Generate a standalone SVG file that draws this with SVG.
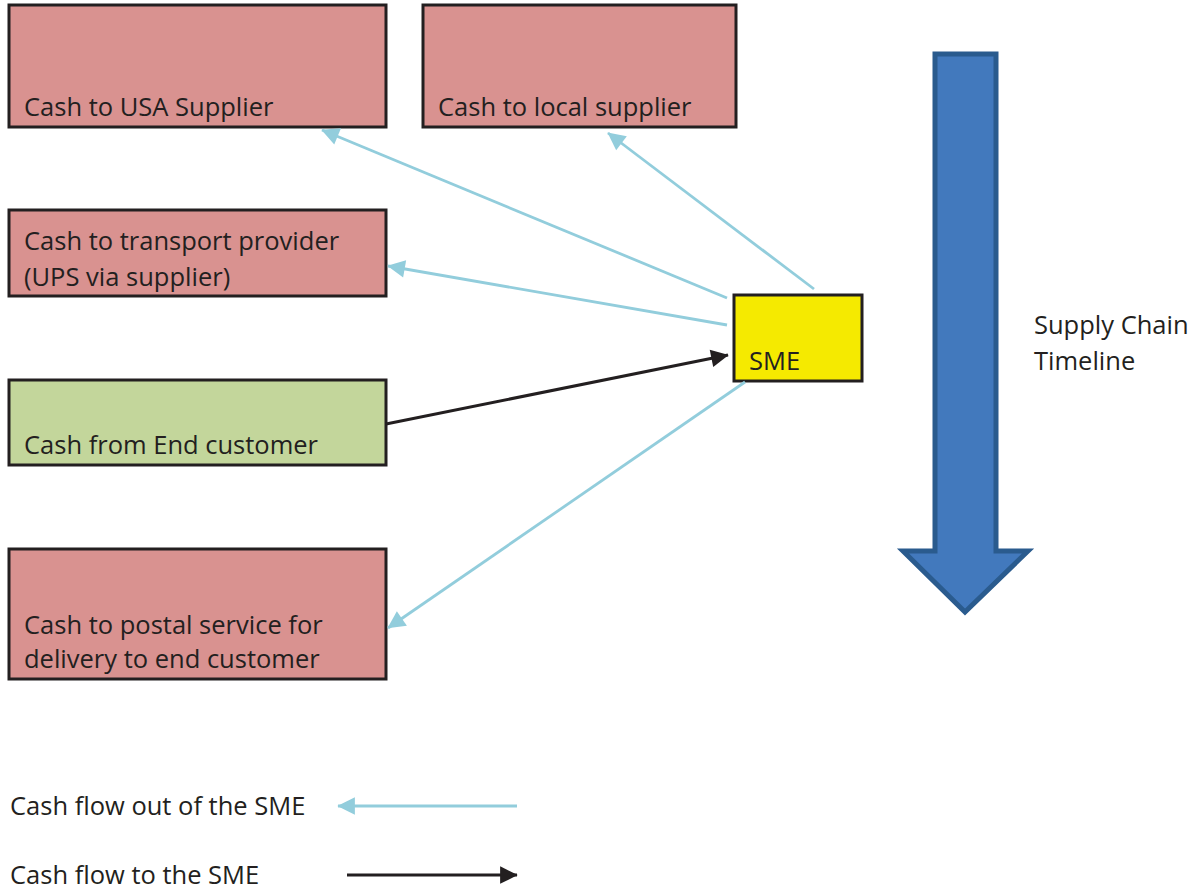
<svg xmlns="http://www.w3.org/2000/svg" width="1200" height="892" viewBox="0 0 1200 892">
<defs>
<style>
.box{stroke:#231f20;stroke-width:3}
.red{fill:#d99290}
.green{fill:#c3d69b}
.sme{fill:#f5ea00}
.t{font-family:"Open Sans","Liberation Sans",sans-serif;font-size:25.5px;fill:#231f20}
.out{stroke:#92cddc;stroke-width:2.8;fill:none}
.in{stroke:#231f20;stroke-width:3;fill:none}
</style>
<marker id="ab" viewBox="0 0 10 10" refX="9" refY="5" markerWidth="8" markerHeight="8" markerUnits="userSpaceOnUse" orient="auto" style="overflow:visible">
<path d="M0,0 L10,5 L0,10 Z" fill="#92cddc" transform="scale(2.2) translate(-5.5,-2.7)"/>
</marker>
<marker id="ak" viewBox="0 0 10 10" refX="9" refY="5" markerWidth="8" markerHeight="8" markerUnits="userSpaceOnUse" orient="auto" style="overflow:visible">
<path d="M0,0 L10,5 L0,10 Z" fill="#231f20" transform="scale(2.2) translate(-5.5,-2.7)"/>
</marker>
</defs>
<rect width="1200" height="892" fill="#ffffff"/>
<g id="usa-supplier"><rect class="box red" x="9" y="5" width="377" height="122"/><text class="t" x="24" y="116">Cash to USA Supplier</text></g>
<g id="local-supplier"><rect class="box red" x="423" y="5" width="313" height="122"/><text class="t" x="438" y="116">Cash to local supplier</text></g>
<g id="transport"><rect class="box red" x="9" y="210" width="377" height="86"/><text class="t" x="24" y="250">Cash to transport provider</text><text class="t" x="24" y="286">(UPS via supplier)</text></g>
<g id="end-customer"><rect class="box green" x="9" y="380" width="377" height="85"/><text class="t" x="24" y="454">Cash from End customer</text></g>
<g id="postal"><rect class="box red" x="9" y="549" width="377" height="130"/><text class="t" x="24" y="634">Cash to postal service for</text><text class="t" x="24" y="668">delivery to end customer</text></g>
<g id="sme"><rect class="box sme" x="734" y="295" width="128" height="86"/><text class="t" x="749" y="370">SME</text></g>
<g id="timeline">
<path d="M935,54 L996,54 L996,551 L1028,551 L965,612 L903,551 L935,551 Z" fill="#4279bd" stroke="#2a5b8e" stroke-width="5" stroke-linejoin="miter"/>
<text class="t" x="1034" y="334">Supply Chain</text><text class="t" x="1034" y="370">Timeline</text>
</g>
<g id="connectors">
<line class="out" x1="727" y1="298" x2="322" y2="130" marker-end="url(#ab)"/>
<line class="out" x1="814" y1="289" x2="608" y2="133" marker-end="url(#ab)"/>
<line class="out" x1="727" y1="325" x2="388" y2="266" marker-end="url(#ab)"/>
<line class="out" x1="745" y1="382" x2="388" y2="628" marker-end="url(#ab)"/>
<line class="in" x1="386" y1="424" x2="728" y2="355" marker-end="url(#ak)"/>
</g>
<g id="legend">
<text class="t" x="10" y="815">Cash flow out of the SME</text>
<line class="out" x1="517" y1="806" x2="338" y2="806" marker-end="url(#ab)"/>
<text class="t" x="10" y="884">Cash flow to the SME</text>
<line class="in" x1="347" y1="875" x2="517" y2="875" marker-end="url(#ak)"/>
</g>
</svg>
